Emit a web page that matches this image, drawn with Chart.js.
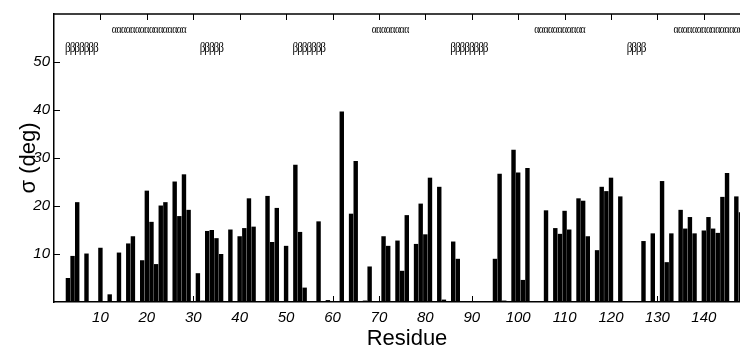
<!DOCTYPE html>
<html>
<head>
<meta charset="utf-8">
<script src="https://cdn.jsdelivr.net/npm/chart.js@4/dist/chart.umd.min.js"></script>
<style>
    html, body { margin: 0; padding: 0; background: #fff; overflow: hidden; width: 740px; height: 349px; }
</style>
</head>
<body>
<!-- 原图右侧被裁掉了，所以画布比窗口略宽 -->
<canvas id="sigma-chart" width="760" height="349" style="width:760px;height:349px;"></canvas>
<script>
// 每个残基的 σ (deg)，只列出有柱子的残基
const residues = [3, 4, 5, 7, 10, 12, 14, 16, 17, 19, 20, 21, 22, 23, 24, 26, 27, 28, 29, 31,
    32, 33, 34, 35, 36, 38, 40, 41, 42, 43, 44, 45, 46, 47, 48, 50, 52, 53, 54, 55,
    57, 59, 62, 64, 65, 67, 68, 71, 72, 74, 75, 76, 78, 79, 80, 81, 83, 84, 86, 87,
    95, 96, 97, 99, 100, 101, 102, 106, 108, 109, 110, 111, 113, 114, 115, 117, 118, 119, 120, 122,
    127, 129, 131, 132, 133, 135, 136, 137, 138, 140, 141, 142, 143, 144, 145, 147, 148];
const sigma = [5.0, 9.6, 20.8, 10.1, 11.3, 1.6, 10.3, 12.2, 13.7, 8.7, 23.2, 16.7, 7.9, 20.1, 20.8, 25.1, 17.9, 26.6, 19.2, 6.0,
    0.3, 14.8, 15.0, 13.3, 10.0, 15.1, 13.7, 15.4, 21.6, 15.7, 0.2, 0.2, 22.1, 12.5, 19.6, 11.7, 28.6, 14.6, 3.0, 0.2,
    16.8, 0.4, 39.7, 18.4, 29.4, 0.3, 7.4, 13.7, 11.7, 12.8, 6.5, 18.1, 12.1, 20.5, 14.1, 25.9, 24.0, 0.5, 12.6, 9.0,
    9.0, 26.7, 0.3, 31.7, 27.0, 4.6, 27.9, 19.1, 15.4, 14.2, 19.0, 15.1, 21.6, 21.1, 13.7, 10.8, 24.0, 23.1, 25.9, 22.0,
    12.7, 14.3, 25.2, 8.3, 14.3, 19.2, 15.3, 17.7, 14.3, 14.9, 17.7, 15.3, 14.4, 21.9, 26.9, 22.0, 18.7];

// 二级结构（β 折叠 / α 螺旋）起止残基
const strandStart = [3, 32, 52, 86, 124];
const strandEnd = [9, 36, 58, 93, 127];
const helixStart = [13, 69, 104, 134];
const helixEnd = [28, 76, 114, 150];

// 坐标轴刻度
const xTicks = [10, 20, 30, 40, 50, 60, 70, 80, 90, 100, 110, 120, 130, 140];
const yTicks = [10, 20, 30, 40, 50];

const strandLevel = 52;
const helixLevel = 56;

// 画上边框、朝内的刻度线和二级结构符号
const framePlugin = {
    id: 'framePlugin',
    afterDatasetsDraw(chart) {
        const { ctx, chartArea: a, scales: { x, y } } = chart;
        ctx.save();
        ctx.strokeStyle = '#000';
        ctx.lineWidth = 1.5;
        ctx.beginPath();
        ctx.moveTo(a.left, a.top);
        ctx.lineTo(a.right, a.top);
        ctx.stroke();

        ctx.lineWidth = 1;
        ctx.beginPath();
        xTicks.forEach(v => {
            const px = Math.round(x.getPixelForValue(v)) + 0.5;
            ctx.moveTo(px, a.bottom);
            ctx.lineTo(px, a.bottom - 6);
            ctx.moveTo(px, a.top);
            ctx.lineTo(px, a.top + 6);
        });
        yTicks.forEach(v => {
            const py = Math.round(y.getPixelForValue(v)) + 0.5;
            ctx.moveTo(a.left, py);
            ctx.lineTo(a.left + 6, py);
        });
        ctx.stroke();

        ctx.fillStyle = '#000';
        ctx.textAlign = 'center';
        ctx.textBaseline = 'alphabetic';
        const glyph = (ch, r, level, sx) => {
            ctx.save();
            ctx.translate(x.getPixelForValue(r), y.getPixelForValue(level));
            ctx.scale(sx, 1);
            ctx.fillText(ch, 0, 0);
            ctx.restore();
        };
        ctx.font = '14px "Liberation Serif"';
        strandStart.forEach((s, i) => {
            for (let r = s; r <= strandEnd[i]; r++) glyph('β', r, strandLevel, 0.8);
        });
        ctx.font = '13px "Liberation Serif"';
        helixStart.forEach((s, i) => {
            for (let r = s; r <= helixEnd[i]; r++) glyph('α', r, helixLevel, 0.75);
        });
        ctx.restore();
    }
};

const tickFont = { family: '"Liberation Sans", Arial, sans-serif', size: 15, style: 'italic' };
const titleFont = { family: '"Liberation Sans", Arial, sans-serif', size: 22, lineHeight: 1 };

new Chart(document.getElementById('sigma-chart').getContext('2d'), {
    type: 'bar',
    data: {
        datasets: [{
            data: residues.map((r, i) => ({ x: r, y: sigma[i] })),
            backgroundColor: '#000',
            borderWidth: 0,
            categoryPercentage: 1,
            barPercentage: 0.95
        }]
    },
    options: {
        responsive: false,
        animation: false,
        layout: { padding: { top: 14, right: 0, bottom: 0, left: 0 } },
        plugins: {
            legend: { display: false },
            tooltip: { enabled: false }
        },
        scales: {
            x: {
                type: 'linear',
                min: 0,
                max: 152.1,
                offset: false,
                afterFit: s => { s.height = 47; s.paddingRight = 0; s.paddingLeft = 0; },
                grid: { display: true, offset: false, drawOnChartArea: false, drawTicks: false },
                border: { display: true, color: '#000', width: 1.5 },
                ticks: {
                    stepSize: 10,
                    includeBounds: false,
                    autoSkip: false,
                    maxRotation: 0,
                    padding: 7,
                    color: '#000',
                    font: tickFont,
                    callback: v => (xTicks.includes(v) ? v : '')
                },
                title: {
                    display: true,
                    text: 'Residue',
                    color: '#000',
                    font: titleFont,
                    padding: { top: 0, bottom: -1 }
                }
            },
            y: {
                min: 0,
                max: 60,
                afterFit: s => { s.width = 54; },
                grid: { display: true, drawOnChartArea: false, drawTicks: false },
                border: { display: true, color: '#000', width: 1.5 },
                ticks: {
                    stepSize: 10,
                    padding: 4,
                    color: '#000',
                    font: tickFont,
                    callback: v => (yTicks.includes(v) ? v : '')
                },
                title: {
                    display: true,
                    text: 'σ (deg)',
                    color: '#000',
                    font: titleFont,
                    padding: { top: 18, bottom: 0 }
                }
            }
        }
    },
    plugins: [framePlugin]
});
</script>
</body>
</html>
